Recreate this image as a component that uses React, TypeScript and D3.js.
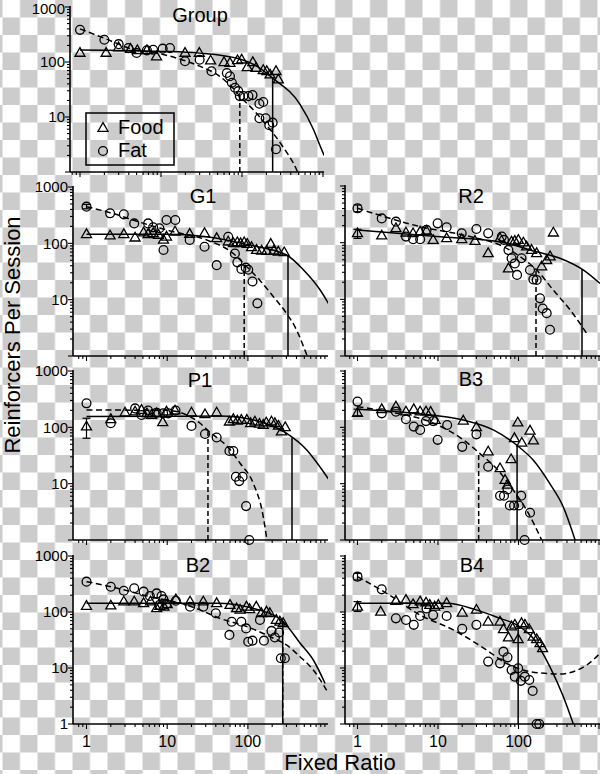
import * as d3 from "d3";
import { useEffect, useRef } from "react";

type Pt = [number, number]; // [fixed ratio, reinforcers per session]
type Err = [number, number, number]; // [fixed ratio, low, high]

// ---- Group ----
const groupFood: Pt[] = [[1,146],[2.1,146],[3,184],[4.2,172],[5.1,163],[6.7,163],[8.8,126],[19.8,146],[29.7,146],[41,106],[60,99],[71,96],[88,107],[99,110],[116,80],[136,99],[149,78],[183,71],[202,68],[222,59],[263,68],[281,48]];
const groupFat: Pt[] = [[1,384],[2,254],[3,211],[3.95,179],[5,146],[6.7,163],[8,167],[10.5,175],[12.9,179],[19.8,103],[30,110],[42,68],[65,63],[71,55],[75,42],[82,34],[90,29.5],[94,24],[104,24],[120,24],[135,25],[164,17.4],[183,18.7],[164,9.5],[196,9.5],[217,7.1],[239,7.9],[263,2.6]];
const groupFoodFit: Pt[] = [[1,165],[10,156],[30,145],[94,113],[150,85],[239,51],[520,17],[760,6],[920,3],[1030,2]];
const groupFatFit: Pt[] = [[1,400],[2,270],[4.5,170],[10,140],[20,105],[30,84],[53,55],[78,33],[94,24],[138,13.5],[221,6],[324,2.8],[472,1.1],[500,0.9]];
const groupFoodPmax: Pt = [239, 51];
const groupFatPmax: Pt = [94, 24];

// ---- G1 ----
const g1Food: Pt[] = [[1,145],[1.96,137],[2.9,145],[4,126],[5.1,155],[5.8,145],[6.7,151],[7.8,141],[9,115],[9.8,131],[12.5,161],[19,146],[29,151],[41,123],[57,107],[66,100],[74,104],[81,100],[90,104],[98,97],[111,85],[128,76],[148,74],[171,73],[192,97],[210,74],[238,71],[282,69]];
const g1Fat: Pt[] = [[1,448],[1.96,341],[2.9,327],[3.9,226],[5.8,226],[6.7,192],[8,185],[9,76],[9.8,259],[12.6,259],[19,115],[29,87],[41,41],[57,131],[69,66],[74,46],[83,35],[94,37],[101,34],[114,21],[131,8.6]];
const g1FoodFit: Pt[] = [[1,145],[10,145],[30.7,131],[106,93],[302,62],[486,34],[782,15],[1000,8.5]];
const g1FatFit: Pt[] = [[1,448],[1.96,350],[5.1,226],[11.9,161],[30.7,115],[66,66],[96.5,38.5],[141,22],[207,11.3],[301,5.7],[401,2.9],[508,1.28],[560,0.9]];
const g1FoodPmax: Pt = [314, 62];
const g1FatPmax: Pt = [90, 42];
const g1FatErr: Err[] = [[1, 410, 490]];

// ---- R2 ----
const r2Food: Pt[] = [[1,146],[2,133],[3,179],[4,150],[4.9,146],[6,156],[7.2,161],[8.7,111],[12.8,119],[19.7,115],[28.8,107],[42,65],[59,119],[75,35],[82,104],[90,107],[99.5,111],[115,100],[126,85],[145,74],[168,65],[194,38],[224,49],[247,57],[271,150]];
const r2Fat: Pt[] = [[1,404],[2,268],[3,235],[4,128],[4.9,115],[6,115],[7.2,168],[9.9,219],[12.8,187],[19.7,146],[30,174],[42,146],[62,128],[66,112],[75,74],[82,53],[90,43],[96,27],[109,53],[139,33],[153,22.5],[168,22],[185,10.4],[200,6.9],[224,5.7],[246,2.9]];
const r2FoodFit: Pt[] = [[1,168],[9.6,128],[59,104],[168,69],[327,53],[636,33],[1030,19]];
const r2FatFit: Pt[] = [[1,404],[6,192],[24.9,128],[65,85],[104,57],[168,33],[270,14.6],[438,6.5],[705,2.5]];
const r2FoodPmax: Pt = [615, 34];
const r2FatPmax: Pt = [165, 34];
const r2FoodErr: Err[] = [[1, 119, 172]];
const r2FatErr: Err[] = [[1, 352, 462]];

// ---- P1 ----
const p1Food: Pt[] = [[1,103],[2,139],[3,182],[4,190],[4.8,203],[5.6,177],[6.4,166],[7.4,177],[8.8,123],[9.8,190],[12.5,198],[20,182],[29.4,170],[41,182],[59,126],[66,139],[74,131],[83,135],[97,135],[108,118],[122,126],[139,115],[155,110],[169,121],[196,126],[216,118],[239,106],[260,84],[290,100]];
const p1Fat: Pt[] = [[1,267],[2,118],[4,217],[4.8,166],[5.8,198],[7.4,182],[8.9,177],[10.3,177],[12.7,198],[20,106],[29.4,76],[41,66],[59,38],[66,38],[71,13.3],[78,11.1],[86,13.3],[95,4.0],[104,1.0]];
const p1FoodFit: Pt[] = [[1,155],[10,157],[45,159],[117,135],[303,78],[533,40],[779,20],[1000,12]];
const p1FatFit: Pt[] = [[1,203],[9.8,200],[17.4,166],[25.6,118],[32,88],[41,66],[54.6,47],[80,23],[117,10],[155,2.6],[172,1]];
const p1FoodPmax: Pt = [352, 66];
const p1FatPmax: Pt = [32, 85];
const p1FoodErr: Err[] = [[1, 64, 145]];

// ---- B3 ----
const b3Food: Pt[] = [[1,180],[2,209],[3,233],[4,190],[5,209],[6,190],[7.1,190],[8.1,187],[9.2,135],[20.6,131],[30,100],[42,37],[59,18.7],[68,11.6],[73,9.5],[81,27],[89,64],[98,121],[110,53],[139,87],[153,58]];
const b3Fat: Pt[] = [[1,286],[2,177],[3,190],[4,139],[5,103],[6,90],[7.1,129],[8.7,129],[9.9,60],[13,110],[20,45],[30,75],[42,20],[59,6.1],[66,6.1],[73,7.9],[78,4.1],[88,4.1],[101,4.1],[108,6.1],[139,3.05],[119,1.0]];
const b3FoodFit: Pt[] = [[1,209],[4.95,177],[20.6,135],[48.6,90],[94.7,48.5],[153,26],[245,10],[359,3.9],[505,1]];
const b3FatFit: Pt[] = [[1,233],[3.1,177],[7.9,126],[20.6,60],[33,34.5],[53,18.7],[86,7.7],[126,3.4],[194,1]];
const b3FoodPmax: Pt = [96, 47];
const b3FatPmax: Pt = [32, 36];
const b3FoodErr: Err[] = [[1, 160, 210]];

// ---- B2 ----
const b2Food: Pt[] = [[1,128],[2,130],[2.9,153],[3.9,153],[5.1,143],[6.2,153],[7.4,116],[8.1,128],[9.1,124],[10,137],[12.8,168],[19.2,153],[28,153],[41,143],[60,133],[72.5,116],[80,109],[96,124],[105,112],[127,124],[147,95],[170,101],[187,95],[225,72],[249,67],[273,63]];
const b2Fat: Pt[] = [[1,348],[2,283],[2.9,240],[3.9,265],[5.1,231],[6.1,193],[7.4,215],[8.5,193],[9,168],[8,133],[9.8,139],[12.8,159],[19.2,124],[28,124],[40,95],[59,39],[63,67],[83,67],[95,51],[101,29.5],[114,30.8],[141,72],[158,30.8],[196,46],[216,35],[244,43],[256,14.9],[287,14.9]];
const b2FoodFit: Pt[] = [[1,143],[41,143],[116,116],[274,67],[442,28],[647,13.9],[905,5.3]];
const b2FatFit: Pt[] = [[1,348],[2,283],[6.1,188],[17.4,133],[25.5,109],[45,77],[96.5,55],[207,34],[301,25.8],[442,15.9],[647,9.2],[946,4]];
const b2FoodPmax: Pt = [270, 67];
const b2FatPmax: Pt = [270, 28];

// ---- B4 ----
const b4Food: Pt[] = [[1,124],[1.94,101],[3,157],[4,164],[4.9,137],[6,153],[7.1,147],[7.9,133],[9.1,124],[10.1,133],[12.8,143],[20,97],[30,109],[42,67],[59,67],[65,49],[75,35],[82,55],[90,59],[99,32.5],[109,63],[120,59],[136,49],[152,36],[168,32.5],[185,27.5],[199,22.4]];
const b4Fat: Pt[] = [[1,428],[2,254],[3,77],[4,72],[5,59],[6,85],[7.2,116],[8.7,88],[12.8,85],[20,50],[30,59],[42,13],[59,12.1],[65,19.6],[73,15.5],[82,9.2],[90,7],[99,9.9],[107,5.9],[120,7],[136,6.1],[150,3.9],[168,1],[181,1]];
const b4FoodFit: Pt[] = [[1,143],[12.8,143],[30,109],[59,77],[95,59],[152,34],[245,10.6],[360,3.1],[480,1]];
const b4FatFit: Pt[] = [[1,428],[2.3,215],[6,88],[15.5,48],[40,21],[71,12.1],[114,9.2],[224,8],[326,7.8],[480,8.6],[705,11.3],[1030,18.3]];
const b4FoodPmax: Pt = [99, 56];
const b4FoodErr: Err[] = [[1, 102, 153]];
const b4FatErr: Err[] = [[1, 373, 490]];

const legendItems = ["Food", "Fat"];
const yTickLabels = [1000, 100, 10];
const xTickLabels = [1, 10, 100];

const W = 600;
const H = 774;
const FONT = "'Liberation Sans', Arial, Helvetica, sans-serif";

// panel frames in pixels: axis ends, where FR=1 sits, px per decade, y of 1000 and 1
const layout: Record<string, any> = {
  Group: { left: 70, right: 324, x1: 80, dec: 81, top: 7, bottom: 172, tx: 200, ty: 22 },
  G1: { left: 73, right: 328, x1: 86.5, dec: 80.7, top: 187, bottom: 356, tx: 203, ty: 203 },
  P1: { left: 73, right: 328, x1: 86.5, dec: 80.7, top: 371, bottom: 540, tx: 200, ty: 387 },
  B2: { left: 73, right: 328, x1: 86.5, dec: 80.7, top: 556, bottom: 724, tx: 198, ty: 572 },
  R2: { left: 345, right: 600, x1: 357.5, dec: 80.5, top: 186, bottom: 356, tx: 471, ty: 203 },
  B3: { left: 345, right: 600, x1: 357.5, dec: 80.5, top: 371, bottom: 540, tx: 471, ty: 386 },
  B4: { left: 345, right: 600, x1: 357.5, dec: 80.5, top: 556, bottom: 724, tx: 472, ty: 572 },
};

const panels = [
  { name: "Group", food: groupFood, fat: groupFat, foodFit: groupFoodFit, fatFit: groupFatFit, foodPmax: groupFoodPmax, fatPmax: groupFatPmax, foodErr: [], fatErr: [], yLab: true, one: false, xLab: false, legend: true },
  { name: "G1", food: g1Food, fat: g1Fat, foodFit: g1FoodFit, fatFit: g1FatFit, foodPmax: g1FoodPmax, fatPmax: g1FatPmax, foodErr: [], fatErr: g1FatErr, yLab: true, one: false, xLab: false },
  { name: "R2", food: r2Food, fat: r2Fat, foodFit: r2FoodFit, fatFit: r2FatFit, foodPmax: r2FoodPmax, fatPmax: r2FatPmax, foodErr: r2FoodErr, fatErr: r2FatErr, yLab: false, one: false, xLab: false },
  { name: "P1", food: p1Food, fat: p1Fat, foodFit: p1FoodFit, fatFit: p1FatFit, foodPmax: p1FoodPmax, fatPmax: p1FatPmax, foodErr: p1FoodErr, fatErr: [], yLab: true, one: false, xLab: false },
  { name: "B3", food: b3Food, fat: b3Fat, foodFit: b3FoodFit, fatFit: b3FatFit, foodPmax: b3FoodPmax, fatPmax: b3FatPmax, foodErr: b3FoodErr, fatErr: [], yLab: false, one: false, xLab: false },
  { name: "B2", food: b2Food, fat: b2Fat, foodFit: b2FoodFit, fatFit: b2FatFit, foodPmax: b2FoodPmax, fatPmax: b2FatPmax, foodErr: [], fatErr: [], yLab: true, one: true, xLab: true },
  { name: "B4", food: b4Food, fat: b4Fat, foodFit: b4FoodFit, fatFit: b4FatFit, foodPmax: b4FoodPmax, fatPmax: null, foodErr: b4FoodErr, fatErr: b4FatErr, yLab: false, one: false, xLab: true },
];

const triPath = "M0,-5.4L5,3.3L-5,3.3Z";

export default function App() {
  const svgRef = useRef<SVGSVGElement>(null);

  useEffect(() => {
    if (!svgRef.current) return;
    const svg = d3.select(svgRef.current);
    svg.selectAll("*").remove();

    // transparent-background checkerboard
    const defs = svg.append("defs");
    const pat = defs
      .append("pattern")
      .attr("id", "checker")
      .attr("patternUnits", "userSpaceOnUse")
      .attr("x", 2.5)
      .attr("y", 0)
      .attr("width", 35)
      .attr("height", 35);
    pat.append("rect").attr("width", 35).attr("height", 35).attr("fill", "#ffffff");
    pat.append("rect").attr("x", 17.5).attr("y", 0).attr("width", 17.5).attr("height", 17.5).attr("fill", "#cccccc");
    pat.append("rect").attr("x", 0).attr("y", 17.5).attr("width", 17.5).attr("height", 17.5).attr("fill", "#cccccc");
    svg.append("rect").attr("width", W).attr("height", H).attr("fill", "url(#checker)");

    // log tick values 0.1 .. 1000
    const tickVals: number[] = [];
    for (let k = -1; k <= 3; k++) for (let m = 1; m <= 9; m++) tickVals.push(+(m * Math.pow(10, k)).toPrecision(3));

    panels.forEach((p: any, i) => {
      const L = layout[p.name];
      const x = d3.scaleLog().domain([1, 100]).range([L.x1, L.x1 + 2 * L.dec]);
      const y = d3.scaleLog().domain([1, 1000]).range([L.bottom, L.top]);
      const g = svg.append("g");

      defs
        .append("clipPath")
        .attr("id", `clip${i}`)
        .append("rect")
        .attr("x", L.left)
        .attr("y", L.top - 10)
        .attr("width", L.right - L.left)
        .attr("height", L.bottom - L.top + 10);

      const line = d3
        .line<Pt>()
        .x((d) => x(d[0]))
        .y((d) => y(d[1]))
        .curve(d3.curveMonotoneX);

      const lines = g.append("g").attr("clip-path", `url(#clip${i})`).attr("fill", "none").attr("stroke", "#000");
      lines.append("path").attr("d", line(p.foodFit)).attr("stroke-width", 1.5);
      lines.append("path").attr("d", line(p.fatFit)).attr("stroke-width", 1.5).attr("stroke-dasharray", "6,3.5");
      lines
        .append("line")
        .attr("x1", x(p.foodPmax[0]))
        .attr("x2", x(p.foodPmax[0]))
        .attr("y1", y(1))
        .attr("y2", y(p.foodPmax[1]))
        .attr("stroke-width", 1.5);
      if (p.fatPmax) {
        lines
          .append("line")
          .attr("x1", x(p.fatPmax[0]))
          .attr("x2", x(p.fatPmax[0]))
          .attr("y1", y(1))
          .attr("y2", y(p.fatPmax[1]))
          .attr("stroke-width", 1.5)
          .attr("stroke-dasharray", "5,3");
      }

      // axes
      const ax = g.append("g").attr("stroke", "#000").attr("stroke-width", 1.6);
      ax.append("line").attr("x1", L.left).attr("x2", L.left).attr("y1", L.top - 1).attr("y2", L.bottom);
      ax.append("line").attr("x1", L.left).attr("x2", L.right).attr("y1", L.bottom).attr("y2", L.bottom);
      const tk = g.append("g").attr("stroke", "#000").attr("stroke-width", 1.1);
      tickVals
        .filter((v) => v >= 1 && v <= 1000)
        .forEach((v) => {
          const major = Math.abs(Math.log10(v) - Math.round(Math.log10(v))) < 1e-6;
          tk.append("line")
            .attr("x1", L.left)
            .attr("x2", L.left - (major ? 5 : 3))
            .attr("y1", y(v))
            .attr("y2", y(v));
        });
      tickVals
        .filter((v) => x(v) >= L.left + 2 && x(v) <= L.right + 0.5)
        .forEach((v) => {
          const major = Math.abs(Math.log10(v) - Math.round(Math.log10(v))) < 1e-6;
          tk.append("line")
            .attr("x1", x(v))
            .attr("x2", x(v))
            .attr("y1", L.bottom)
            .attr("y2", L.bottom + (major ? 5 : 3));
        });

      const txt = g.append("g").attr("font-family", FONT).attr("fill", "#000");
      if (p.yLab) {
        const labs = p.one ? [...yTickLabels, 1] : yTickLabels;
        labs.forEach((v: number) => {
          txt.append("text")
            .attr("x", L.left - 5)
            .attr("y", Math.max(y(v) + 5.3, 14))
            .attr("text-anchor", "end")
            .attr("font-size", 15)
            .text(String(v));
        });
      }
      if (p.xLab) {
        xTickLabels.forEach((v) => {
          txt.append("text")
            .attr("x", x(v))
            .attr("y", L.bottom + 23)
            .attr("text-anchor", "middle")
            .attr("font-size", 16)
            .text(String(v));
        });
      }
      txt.append("text")
        .attr("x", L.tx)
        .attr("y", L.ty)
        .attr("text-anchor", "middle")
        .attr("font-size", 20)
        .text(p.name);

      // error bars
      const eb = g.append("g").attr("stroke", "#000").attr("stroke-width", 1.2);
      [...p.foodErr, ...p.fatErr].forEach((e: Err) => {
        const cx = x(e[0]);
        eb.append("line").attr("x1", cx).attr("x2", cx).attr("y1", y(e[1])).attr("y2", y(e[2]));
        eb.append("line").attr("x1", cx - 4).attr("x2", cx + 4).attr("y1", y(e[1])).attr("y2", y(e[1]));
        eb.append("line").attr("x1", cx - 4).attr("x2", cx + 4).attr("y1", y(e[2])).attr("y2", y(e[2]));
      });

      // markers
      const mk = g.append("g").attr("fill", "none").attr("stroke", "#000").attr("stroke-width", 1.3);
      mk.selectAll("circle")
        .data(p.fat as Pt[])
        .join("circle")
        .attr("cx", (d) => x(d[0]))
        .attr("cy", (d) => y(d[1]))
        .attr("r", 4.4);
      mk.selectAll("path")
        .data(p.food as Pt[])
        .join("path")
        .attr("d", triPath)
        .attr("transform", (d) => `translate(${x(d[0])},${y(d[1])})`);

      if (p.legend) {
        const lg = g.append("g");
        lg.append("rect")
          .attr("x", 86)
          .attr("y", 113)
          .attr("width", 88)
          .attr("height", 52)
          .attr("fill", "none")
          .attr("stroke", "#000")
          .attr("stroke-width", 1.5);
        lg.append("path")
          .attr("d", triPath)
          .attr("transform", "translate(103,128)")
          .attr("fill", "none")
          .attr("stroke", "#000")
          .attr("stroke-width", 1.3);
        lg.append("circle").attr("cx", 103).attr("cy", 151).attr("r", 4.4).attr("fill", "none").attr("stroke", "#000").attr("stroke-width", 1.3);
        legendItems.forEach((t, j) => {
          lg.append("text")
            .attr("x", 118)
            .attr("y", 134 + j * 23)
            .attr("font-family", FONT)
            .attr("font-size", 20)
            .text(t);
        });
      }
    });

    // shared axis titles
    svg.append("text")
      .attr("transform", "translate(20,335) rotate(-90)")
      .attr("text-anchor", "middle")
      .attr("font-family", FONT)
      .attr("font-size", 22)
      .text("Reinforcers Per Session");
    svg.append("text")
      .attr("x", 340)
      .attr("y", 770)
      .attr("text-anchor", "middle")
      .attr("font-family", FONT)
      .attr("font-size", 22)
      .text("Fixed Ratio");
  }, []);

  return (
    <svg
      ref={svgRef}
      width={W}
      height={H}
      style={{ position: "absolute", left: 0, top: 0, display: "block" }}
    />
  );
}
